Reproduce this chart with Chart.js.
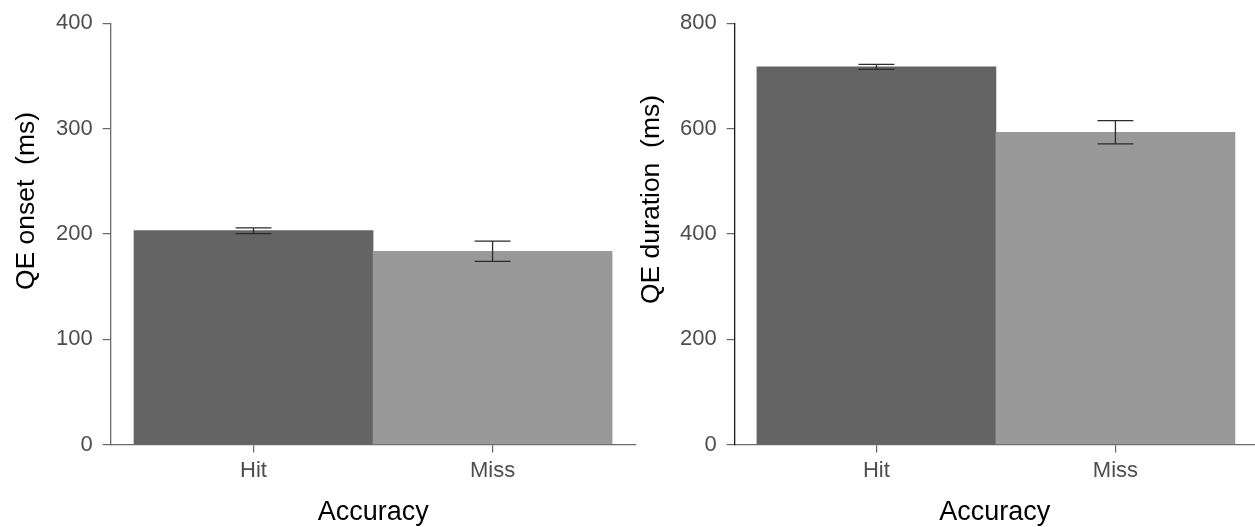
<!DOCTYPE html>
<html>
<head>
<meta charset="utf-8">
<script src="https://cdn.jsdelivr.net/npm/chart.js@4.4.1/dist/chart.umd.min.js"></script>
<style>
    body { margin: 0; background: #fff; width: 1255px; height: 527px; overflow: hidden; position: relative; }
    canvas { position: absolute; top: 0; }
    #onset { left: 0; }
    #duration { left: 620px; }
</style>
</head>
<body>
<canvas id="onset" width="640" height="527"></canvas>
<canvas id="duration" width="635" height="527"></canvas>
<script>
const categories = ['Hit', 'Miss'];
const onsetMeans = [203, 183.5];
const onsetErrors = [2.7, 9.6];
const durationMeans = [717, 593];
const durationErrors = [4.7, 22];
const barColours = ['rgb(100, 100, 100)', 'rgb(153, 153, 153)'];
const fontFamily = "'Liberation Sans', Arial, sans-serif";

// mean +/- error whiskers, drawn through the chart's own scales
const errorBars = {
    id: 'errorBars',
    afterDatasetsDraw(chart, args, opts) {
        const xs = chart.scales.x, ys = chart.scales.y, c = chart.ctx;
        c.save();
        c.strokeStyle = '#2b2b2b';
        c.lineWidth = 1.3;
        opts.means.forEach(function (m, i) {
            const x = xs.getPixelForValue(i + 1);
            const half = xs.getPixelForValue(i + 1 + 0.075) - x;
            const top = ys.getPixelForValue(m + opts.errors[i]);
            const bottom = ys.getPixelForValue(m - opts.errors[i]);
            c.beginPath();
            c.moveTo(x, top); c.lineTo(x, bottom);
            c.moveTo(x - half, top); c.lineTo(x + half, top);
            c.moveTo(x - half, bottom); c.lineTo(x + half, bottom);
            c.stroke();
        });
        c.restore();
    }
};

// y title sits a bit above the panel centre in the original
const sideTitle = {
    id: 'sideTitle',
    afterDraw(chart, args, opts) {
        const c = chart.ctx;
        c.save();
        c.translate(opts.x, opts.y);
        c.rotate(-Math.PI / 2);
        c.textAlign = 'center';
        c.textBaseline = 'middle';
        c.fillStyle = '#000';
        c.font = '26.5px ' + fontFamily;
        c.fillText(opts.text, 0, 0);
        c.restore();
    }
};

function barChart(id, means, errors, yMax, step, axisWidth, xMin, xMax, padRight, padTop, title, yBorder) {
    let ctx = document.getElementById(id);
    return new Chart(ctx, {
        type: 'bar',
        data: {
            datasets: [{
                data: means.map(function (v, i) { return { x: i + 1, y: v }; }),
                backgroundColor: barColours,
                borderWidth: 0,
                categoryPercentage: 1,
                barPercentage: 1
            }]
        },
        options: {
            responsive: false,
            animation: false,
            layout: { padding: { left: 0, right: padRight, top: padTop, bottom: 0 } },
            plugins: {
                legend: { display: false },
                tooltip: { enabled: false },
                errorBars: { means: means, errors: errors },
                sideTitle: title
            },
            scales: {
                x: {
                    type: 'linear',
                    min: xMin,
                    max: xMax,
                    offset: false,
                    afterBuildTicks: function (scale) {
                        scale.ticks = categories.map(function (c, i) { return { value: i + 1 }; });
                    },
                    afterFit: function (scale) { scale.height = 82.5; },
                    ticks: {
                        callback: function (v) { return categories[v - 1]; },
                        color: '#4d4d4d',
                        padding: 5,
                        font: { family: fontFamily, size: 22 }
                    },
                    grid: { offset: false, drawOnChartArea: false, tickLength: 8, color: '#666', lineWidth: 1.2 },
                    border: { color: '#6b6b6b', width: 1.3 },
                    title: {
                        display: true,
                        text: 'Accuracy',
                        color: '#000',
                        padding: 0,
                        font: { family: fontFamily, size: 27, lineHeight: 1.1 }
                    }
                },
                y: {
                    min: 0,
                    max: yMax,
                    afterFit: function (scale) { scale.width = axisWidth; },
                    ticks: {
                        stepSize: step,
                        color: '#4d4d4d',
                        padding: 10,
                        font: { family: fontFamily, size: 22 }
                    },
                    grid: { drawOnChartArea: false, tickLength: 8, color: '#666', lineWidth: 1.2 },
                    border: { color: yBorder, width: 1.3 }
                }
            }
        },
        plugins: [errorBars, sideTitle]
    });
}

barChart('onset', onsetMeans, onsetErrors, 400, 100, 110.7, 0.4025, 2.6, 4, 22.5,
    { text: 'QE onset  (ms)', x: 26.5, y: 201 }, '#6b6b6b');
barChart('duration', durationMeans, durationErrors, 800, 200, 114.7, 0.407, 2.584, 0, 18.3,
    { text: 'QE duration  (ms)', x: 32, y: 199.5 }, '#1a1a1a');
</script>
</body>
</html>
